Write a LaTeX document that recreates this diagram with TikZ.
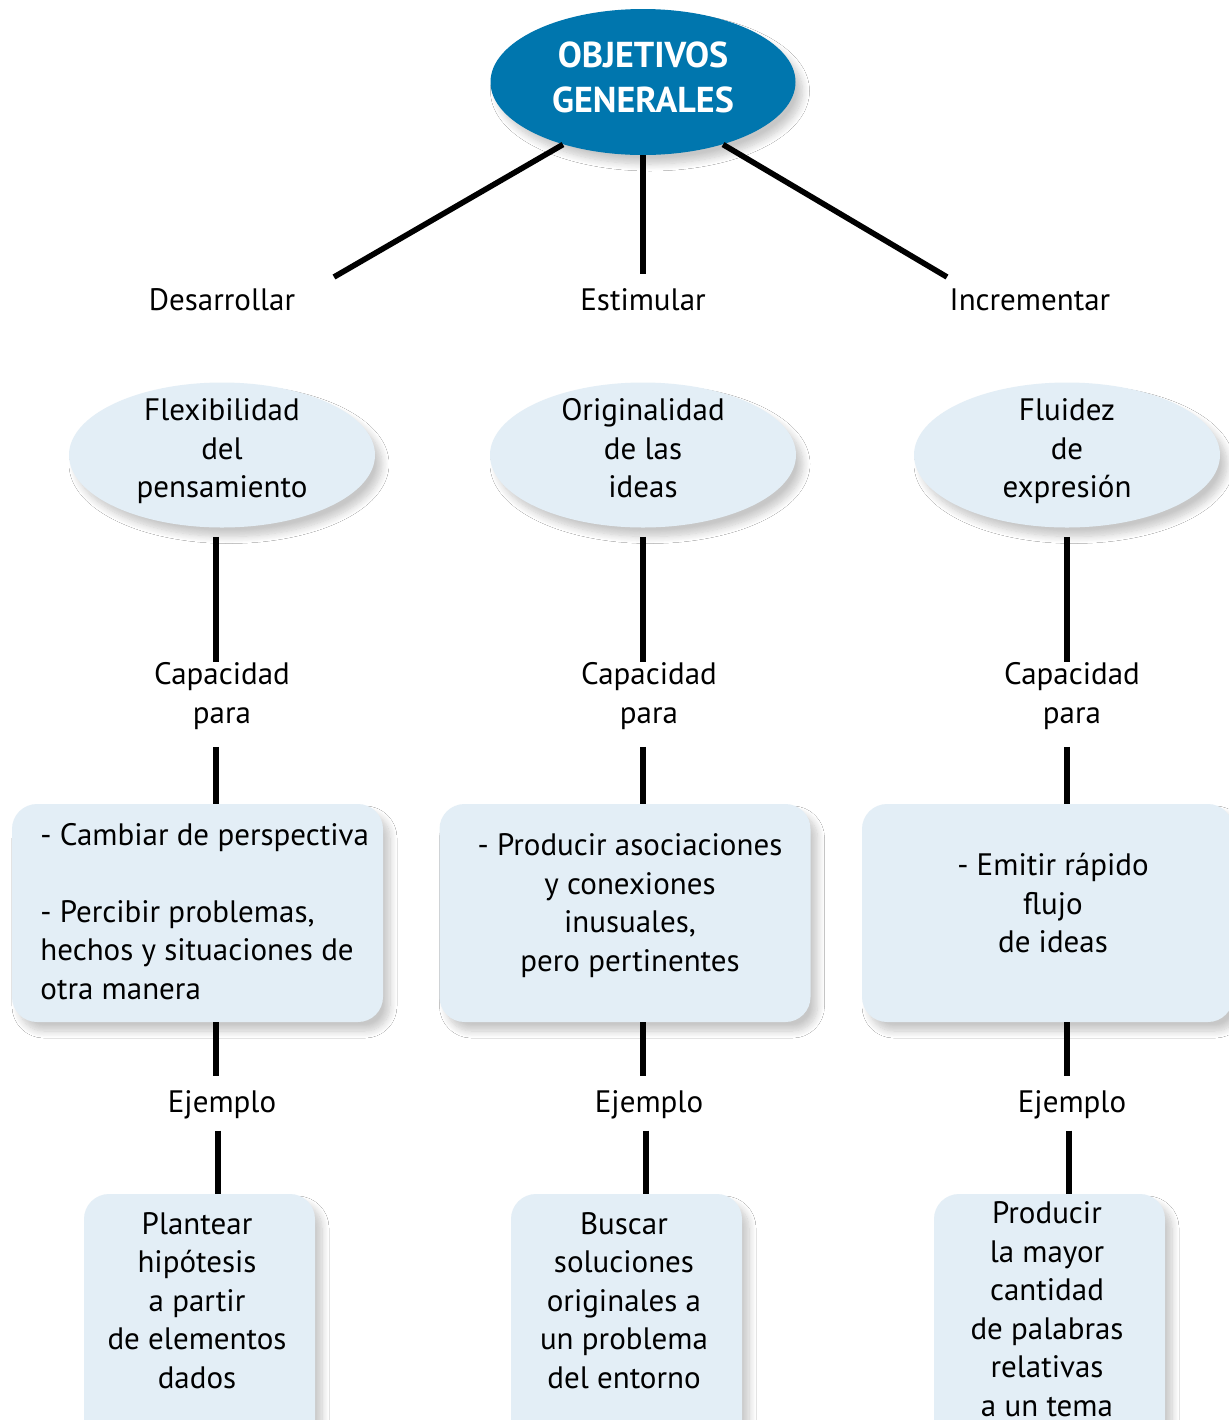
\documentclass[tikz,border=0pt]{standalone}
\usepackage{fontspec}
\setmainfont{PT Sans}
\usetikzlibrary{shapes.geometric,shadows.blur}
\definecolor{dblue}{HTML}{0076AE}
\definecolor{lblue}{HTML}{E3EEF6}
\newcommand\txtf{\fontsize{15.5}{19.25}\selectfont}
\newcommand\ttlf{\fontsize{18}{22.5}\selectfont\bfseries}
\begin{document}
\begin{tikzpicture}[x=0.5pt,y=-0.5pt,
  conn/.style={line width=2.8pt,black},
  lab/.style={font=\txtf, align=center, inner sep=1pt, yshift=-2.5pt, execute at begin node=\strut, execute at end node=\strut},
  shad/.style={blur shadow={shadow xshift=3.5pt, shadow yshift=-4.5pt, shadow blur radius=3.5pt, shadow blur steps=10, shadow opacity=22}},
  topell/.style={ellipse, fill=dblue, inner sep=0pt, minimum width=152.5pt, minimum height=73pt, shad},
  lell/.style={ellipse, fill=lblue, inner sep=0pt, minimum width=153pt, minimum height=72.5pt, shad},
  bigbox/.style={rectangle, rounded corners=12.5pt, fill=lblue, minimum width=185.5pt, minimum height=109pt, inner sep=0pt, shad},
  smallbox/.style={rectangle, rounded corners=12.5pt, fill=lblue, minimum width=115.5pt, minimum height=128pt, inner sep=0pt, shad}
]
\useasboundingbox (0,0) rectangle (1229,1420);
\clip (0,0) rectangle (1229,1420);
\fill[white] (0,0) rectangle (1229,1420);

% top
\node[topell] (top) at (643,82) {};
\node[text=white, font=\ttlf, align=center, inner sep=0pt] (tt) at (643,77.5) {OBJETIVOS\\GENERALES};
\node[lab] (des) at (222,298) {Desarrollar};
\node[lab] (est) at (643,298) {Estimular};
\node[lab] (inc) at (1030,298) {Incrementar};
\coordinate (desend) at (334,277);
\coordinate (incend) at (947,277);
\draw[conn] (top.218) -- (desend);
\draw[conn] (top.south) -- ([yshift=3.5pt]est.north);
\draw[conn] (top.322) -- (incend);

% ellipses
\node[lell] (e1) at (222,455) {};
\node[lell] (e2) at (643,455) {};
\node[lell] (e3) at (1067,455) {};
\node[lab] (et1) at (222,449) {Flexibilidad\\del\\pensamiento};
\node[lab] (et2) at (643,449) {Originalidad\\de las\\ideas};
\node[lab] (et3) at (1067,449) {Fluidez\\de\\expresión};

% capacidad
\node[lab] (c1) at (222,693.5) {Capacidad\\para};
\node[lab] (c2) at (649,693.5) {Capacidad\\para};
\node[lab] (c3) at (1072,693.5) {Capacidad\\para};

% boxes
\node[bigbox] (b1) at (197.5,913) {};
\node[bigbox] (b2) at (625,913) {};
\node[bigbox] (b3) at (1047.5,913) {};
\node[lab, align=left, anchor=west] (t1) at (38,912) {- Cambiar de perspectiva\\[19.25pt]- Percibir problemas,\\hechos y situaciones de\\otra manera};
\node[lab] (t2) at (630,903.5) {- Producir asociaciones\\y conexiones\\inusuales,\\pero pertinentes};
\node[lab] (t3) at (1053,904) {- Emitir rápido\\flujo\\de ideas};

% ejemplo
\node[lab] (j1) at (222,1100) {Ejemplo};
\node[lab] (j2) at (649,1100) {Ejemplo};
\node[lab] (j3) at (1072,1100) {Ejemplo};

% bottom boxes
\node[smallbox] (d1) at (199.5,1322) {};
\node[smallbox] (d2) at (626.5,1322) {};
\node[smallbox] (d3) at (1049.5,1322) {};
\node[lab] (u1) at (197,1301) {Plantear\\hipótesis\\a partir\\de elementos\\dados};
\node[lab] (u2) at (624,1301) {Buscar\\soluciones\\originales a\\un problema\\del entorno};
\node[lab] (u3) at (1047,1310) {Producir\\la mayor\\cantidad\\de palabras\\relativas\\a un tema};

% vertical connectors
\foreach \e/\c/\b/\j/\d/\sa/\sb in {e1/c1/b1/j1/d1/-3pt/-2pt, e2/c2/b2/j2/d2/-3pt/-1.5pt, e3/c3/b3/j3/d3/-2.5pt/-1.5pt}{
  \coordinate (xa) at ([xshift=\sa]\c.center);
  \coordinate (xb) at ([xshift=\sb]\j.center);
  \draw[conn] ([yshift=-4.5pt]\e.south -| xa) -- ([yshift=-1pt]\c.north -| xa);
  \draw[conn] ([yshift=-5pt]\c.south -| xa) -- (\b.north -| xa);
  \draw[conn] (\b.south -| xa) -- ([yshift=3.5pt]\j.north -| xa);
  \draw[conn] ([yshift=-2pt]\j.south -| xb) -- (\d.north -| xb);
}
\end{tikzpicture}
\end{document}
